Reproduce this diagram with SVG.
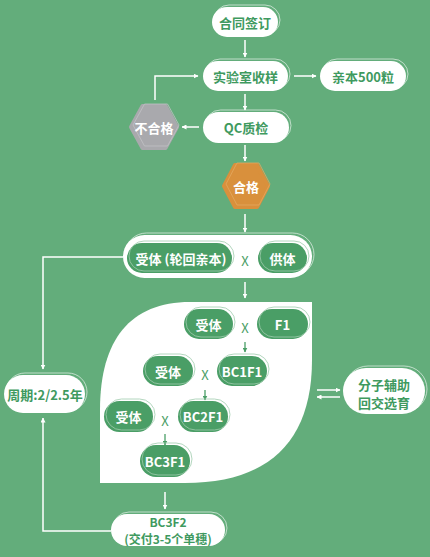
<svg xmlns="http://www.w3.org/2000/svg" width="430" height="557" viewBox="0 0 430 557">
<defs>
<style>
.t{font-family:"Noto Sans CJK SC","Noto Sans",sans-serif;font-weight:bold;font-size:13px;text-anchor:middle;dominant-baseline:central}
.g{fill:#3f9a5f}
.w{fill:#ffffff}
.wp{fill:#ffffff}
.dp{fill:#4a9e66}
.ol{fill:none;stroke:#ffffff;stroke-opacity:0.75;stroke-width:0.8}
.old{fill:none;stroke:#9fcbad;stroke-width:0.8}
.ln{fill:none;stroke:#ffffff;stroke-width:1.5}
.sl{fill:none;stroke:#4a9e66;stroke-width:1.3}
.x{font-family:"Noto Sans CJK SC","Noto Sans",sans-serif;font-size:13px;fill:#4a9e66;text-anchor:middle;dominant-baseline:central}
</style>
<marker id="ah" viewBox="0 0 10 10" refX="9" refY="5" markerWidth="5" markerHeight="5" orient="auto" markerUnits="userSpaceOnUse">
<path d="M0,0 L10,5 L0,10 z" fill="#ffffff"/>
</marker>
<marker id="ahg" viewBox="0 0 10 10" refX="9" refY="5" markerWidth="5" markerHeight="5" orient="auto" markerUnits="userSpaceOnUse">
<path d="M0,0 L10,5 L0,10 z" fill="#4a9e66"/>
</marker>
</defs>
<rect width="430" height="557" fill="#63ad7b"/>

<g id="leaf">
<path d="M100,410 C100,340 130,302 190,302 L312,302 L312,360 C312,440 270,483 185,483 L100,483 Z" fill="#ffffff"/>
</g>

<g id="connectors">
<line class="ln" x1="245" y1="40" x2="245" y2="57" marker-end="url(#ah)"/>
<line class="ln" x1="294" y1="76" x2="316" y2="76" marker-end="url(#ah)"/>
<line class="ln" x1="245" y1="94" x2="245" y2="110" marker-end="url(#ah)"/>
<line class="ln" x1="199" y1="127" x2="182" y2="127" marker-end="url(#ah)"/>
<polyline class="ln" points="155,100 155,76 198,76" marker-end="url(#ah)"/>
<line class="ln" x1="245" y1="145" x2="245" y2="161" marker-end="url(#ah)"/>
<line class="ln" x1="245" y1="214" x2="245" y2="232" marker-end="url(#ah)"/>
<line class="ln" x1="245" y1="282" x2="245" y2="298" marker-end="url(#ah)"/>
<polyline class="ln" points="123,257 43,257 43,369" marker-end="url(#ah)"/>
<polyline class="ln" points="111,531 43,531 43,418" marker-end="url(#ah)"/>
<line class="ln" x1="165" y1="492" x2="165" y2="509" marker-end="url(#ah)"/>
<line class="ln" x1="317" y1="390" x2="340" y2="390" marker-end="url(#ah)"/>
<line class="ln" x1="340" y1="397" x2="317" y2="397" marker-end="url(#ah)"/>
<line class="sl" x1="245" y1="342" x2="245" y2="352" marker-end="url(#ahg)"/>
<line class="sl" x1="205" y1="390" x2="205" y2="400" marker-end="url(#ahg)"/>
<line class="sl" x1="165" y1="434" x2="165" y2="445" marker-end="url(#ahg)"/>
</g>

<g id="n-contract">
<rect class="wp" x="212" y="7" width="66" height="30" rx="15"/>
<rect class="ol" x="214" y="5" width="66" height="30" rx="15"/>
<text class="t g" x="245" y="22">合同签订</text>
</g>

<g id="n-lab">
<rect class="wp" x="203" y="61" width="85" height="30" rx="15"/>
<rect class="ol" x="205" y="59" width="85" height="30" rx="15"/>
<text class="t g" x="245.5" y="76">实验室收样</text>
</g>

<g id="n-parent">
<rect class="wp" x="320" y="61" width="86" height="30" rx="15"/>
<rect class="ol" x="322" y="59" width="86" height="30" rx="15"/>
<text class="t g" x="363" y="76">亲本500粒</text>
</g>

<g id="n-qc">
<rect class="wp" x="203" y="112" width="86" height="31" rx="15.5"/>
<rect class="ol" x="205" y="110" width="86" height="31" rx="15.5"/>
<text class="t g" x="246" y="127.5">QC质检</text>
</g>

<g id="n-fail">
<polygon points="131,127 142.5,106 165.5,106 177,127 165.5,148 142.5,148" fill="#a9a9ad" stroke="#a9a9ad" stroke-width="4" stroke-linejoin="round"/>
<polygon points="131,127 142.5,106 165.5,106 177,127 165.5,148 142.5,148" fill="none" stroke="#c2c2c5" stroke-width="0.8" stroke-linejoin="round" transform="translate(2,-2)"/>
<text class="t w" x="154" y="127">不合格</text>
</g>

<g id="n-pass">
<polygon points="224,186 235,165 257,165 268,186 257,207 235,207" fill="#d9903c" stroke="#d9903c" stroke-width="4" stroke-linejoin="round"/>
<polygon points="224,186 235,165 257,165 268,186 257,207 235,207" fill="none" stroke="#e3a860" stroke-width="0.8" stroke-linejoin="round" transform="translate(2,-2)"/>
<text class="t w" x="246" y="186">合格</text>
</g>

<g id="n-cross">
<rect class="wp" x="123" y="235" width="189" height="43" rx="21.5"/>
<rect class="ol" x="125" y="233" width="189" height="43" rx="21.5"/>
<rect class="dp" x="127" y="243" width="105" height="30" rx="15"/>
<rect class="old" x="129" y="241" width="105" height="30" rx="15"/>
<text class="t w" x="181" y="258" xml:space="preserve">受体 (轮回亲本)</text>
<text class="x" x="245" y="260">X</text>
<rect class="dp" x="258" y="243" width="49" height="30" rx="15"/>
<rect class="old" x="260" y="241" width="49" height="30" rx="15"/>
<text class="t w" x="282.5" y="258">供体</text>
</g>

<g id="n-r1">
<rect class="dp" x="184" y="309" width="49" height="30" rx="15"/>
<rect class="old" x="186" y="307" width="49" height="30" rx="15"/>
<text class="t w" x="208.5" y="324">受体</text>
<text class="x" x="245" y="327">X</text>
<rect class="dp" x="257" y="309" width="51" height="30" rx="15"/>
<rect class="old" x="259" y="307" width="51" height="30" rx="15"/>
<text class="t w" x="282.5" y="324">F1</text>
</g>

<g id="n-r2">
<rect class="dp" x="143" y="356" width="50" height="30" rx="15"/>
<rect class="old" x="145" y="354" width="50" height="30" rx="15"/>
<text class="t w" x="168" y="371">受体</text>
<text class="x" x="205" y="374">X</text>
<rect class="dp" x="217" y="356" width="50" height="30" rx="15"/>
<rect class="old" x="219" y="354" width="50" height="30" rx="15"/>
<text class="t w" x="242" y="371">BC1F1</text>
</g>

<g id="n-r3">
<rect class="dp" x="104" y="401" width="49" height="31" rx="15.5"/>
<rect class="old" x="106" y="399" width="49" height="31" rx="15.5"/>
<text class="t w" x="128.5" y="416.5">受体</text>
<text class="x" x="165" y="420">X</text>
<rect class="dp" x="178" y="401" width="50" height="31" rx="15.5"/>
<rect class="old" x="180" y="399" width="50" height="31" rx="15.5"/>
<text class="t w" x="203" y="416.5">BC2F1</text>
</g>

<g id="n-bc3f1">
<rect class="dp" x="140" y="445" width="50" height="32" rx="16"/>
<rect class="old" x="142" y="443" width="50" height="32" rx="16"/>
<text class="t w" x="165" y="461">BC3F1</text>
</g>

<g id="n-bc3f2">
<rect class="wp" x="111" y="514" width="114" height="32" rx="16"/>
<rect class="ol" x="113" y="512" width="114" height="32" rx="16"/>
<text class="t g" x="168" y="521.5" style="font-size:12px">BC3F2</text>
<text class="t g" x="168" y="538.5" style="font-size:12px">(交付3-5个单穗)</text>
</g>

<g id="n-cycle">
<rect class="wp" x="4" y="375" width="81" height="38" rx="19"/>
<rect class="ol" x="6" y="373" width="81" height="38" rx="19"/>
<text class="t g" x="45" y="394">周期:2/2.5年</text>
</g>

<g id="n-mas">
<rect class="wp" x="343" y="368" width="82" height="46" rx="23"/>
<rect class="ol" x="345" y="366" width="82" height="46" rx="23"/>
<text class="t g" x="384" y="384.5">分子辅助</text>
<text class="t g" x="384" y="402">回交选育</text>
</g>
</svg>
